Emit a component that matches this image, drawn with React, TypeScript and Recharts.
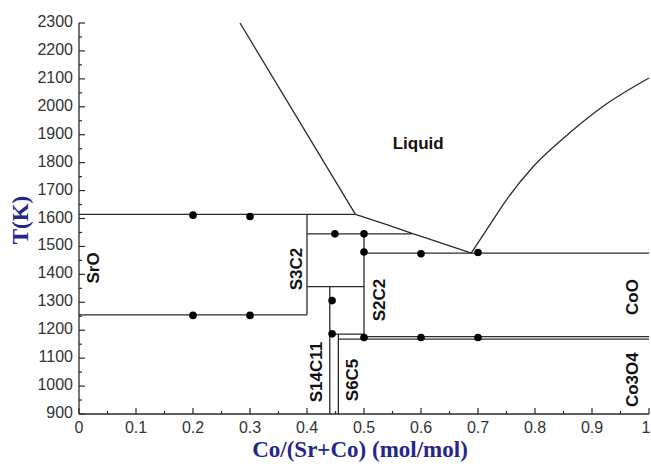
import { ComposedChart, Line, Scatter, XAxis, YAxis } from 'recharts';

// axis ticks
const majorXTicks = [0, 0.1, 0.2, 0.3, 0.4, 0.5, 0.6, 0.7, 0.8, 0.9, 1];
const minorXTicks = [0.05, 0.15, 0.25, 0.35, 0.45, 0.55, 0.65, 0.75, 0.85, 0.95];
const majorTTicks = [900, 1000, 1100, 1200, 1300, 1400, 1500, 1600, 1700, 1800, 1900, 2000, 2100, 2200, 2300];
const minorTTicks = [950, 1050, 1150, 1250, 1350, 1450, 1550, 1650, 1750, 1850, 1950, 2050, 2150, 2250];

// phase boundaries, x = Co/(Sr+Co), t = T(K)
const liquidusSrO = [
  { x: 0.2825, t: 2300 },
  { x: 0.485, t: 1615 },
];
const liquidusMiddle = [
  { x: 0.485, t: 1615 },
  { x: 0.54, t: 1578 },
  { x: 0.584, t: 1547 },
  { x: 0.628, t: 1517 },
  { x: 0.688, t: 1476 },
];
const liquidusCoO = [
  { x: 0.688, t: 1476 },
  { x: 0.715, t: 1559 },
  { x: 0.75, t: 1667 },
  { x: 0.797, t: 1786 },
  { x: 0.861, t: 1907 },
  { x: 0.919, t: 2001 },
  { x: 1.0, t: 2103 },
];
const straightLines = [
  [{ x: 0, t: 1615 }, { x: 0.485, t: 1615 }],
  [{ x: 0.4, t: 1545 }, { x: 0.584, t: 1545 }],
  [{ x: 0.5, t: 1476 }, { x: 1, t: 1476 }],
  [{ x: 0.4, t: 1255 }, { x: 0.4, t: 1615 }],
  [{ x: 0, t: 1255 }, { x: 0.4, t: 1255 }],
  [{ x: 0.4, t: 1356 }, { x: 0.5, t: 1356 }],
  [{ x: 0.44, t: 900 }, { x: 0.44, t: 1356 }],
  [{ x: 0.5, t: 1172 }, { x: 0.5, t: 1545 }],
  [{ x: 0.44, t: 1186 }, { x: 0.5, t: 1186 }],
  [{ x: 0.455, t: 900 }, { x: 0.455, t: 1186 }],
  [{ x: 0.5, t: 1177 }, { x: 1, t: 1177 }],
  [{ x: 0.455, t: 1168 }, { x: 1, t: 1168 }],
];

// experimental points
const measured = [
  { x: 0.2, t: 1612 },
  { x: 0.3, t: 1607 },
  { x: 0.2, t: 1253 },
  { x: 0.3, t: 1253 },
  { x: 0.449, t: 1545 },
  { x: 0.5, t: 1545 },
  { x: 0.5, t: 1480 },
  { x: 0.6, t: 1474 },
  { x: 0.7, t: 1478 },
  { x: 0.444, t: 1306 },
  { x: 0.444, t: 1187 },
  { x: 0.5, t: 1174 },
  { x: 0.6, t: 1174 },
  { x: 0.7, t: 1174 },
];

// phase names
const phaseLabels = [
  { x: 0.026, t: 1423, name: 'SrO', vertical: true },
  { x: 0.381, t: 1419, name: 'S3C2', vertical: true },
  { x: 0.4175, t: 1050, name: 'S14C11', vertical: true },
  { x: 0.479, t: 1022, name: 'S6C5', vertical: true },
  { x: 0.527, t: 1308, name: 'S2C2', vertical: true },
  { x: 0.971, t: 1319, name: 'CoO', vertical: true },
  { x: 0.971, t: 1023, name: 'Co3O4', vertical: true },
  { x: 0.595, t: 1870, name: 'Liquid', vertical: false },
];

const INK = '#2a2a2a';
const TITLE = '#26268c';
const SANS = '"Liberation Sans", Arial, sans-serif';
const SERIF = '"Liberation Serif", "Times New Roman", serif';

const xTicks = [...majorXTicks, ...minorXTicks].sort((a, b) => a - b);
const tTicks = [...majorTTicks, ...minorTTicks].sort((a, b) => a - b);

function BottomTick({ x, y, payload }: any) {
  const major = majorXTicks.includes(payload.value);
  // the last label sits on the page edge, nudge it in
  const labelX = payload.value === 1 ? x - 3 : x;
  return (
    <g>
      <line x1={x} y1={y} x2={x} y2={y - (major ? 6 : 3)} stroke={INK} strokeWidth={1.2} />
      {major && (
        <text x={labelX} y={y + 19} textAnchor='middle' fontSize={16} fill='#333' fontFamily={SANS}>
          {String(payload.value)}
        </text>
      )}
    </g>
  );
}

function TopTick({ x, y, payload }: any) {
  const major = majorXTicks.includes(payload.value);
  return <line x1={x} y1={y} x2={x} y2={y + (major ? 6 : 3)} stroke={INK} strokeWidth={1.2} />;
}

function LeftTick({ x, y, payload }: any) {
  const major = majorTTicks.includes(payload.value);
  return (
    <g>
      <line x1={x} y1={y} x2={x + (major ? 6 : 3)} y2={y} stroke={INK} strokeWidth={1.2} />
      {major && (
        <text x={x - 6} y={y + 4} textAnchor='end' fontSize={16} fill='#333' fontFamily={SANS}>
          {payload.value}
        </text>
      )}
    </g>
  );
}

function RightTick({ x, y, payload }: any) {
  const major = majorTTicks.includes(payload.value);
  return <line x1={x} y1={y} x2={x - (major ? 6 : 3)} y2={y} stroke={INK} strokeWidth={1.2} />;
}

function PhaseName({ cx, cy, payload }: any) {
  if (!payload.vertical) {
    return (
      <text x={cx} y={cy + 6} textAnchor='middle' fontSize={17} fontWeight='bold' fill='#111' fontFamily={SANS}>
        {payload.name}
      </text>
    );
  }
  return (
    <text
      x={cx}
      y={cy}
      textAnchor='middle'
      dominantBaseline='central'
      transform={`rotate(-90, ${cx}, ${cy})`}
      fontSize={17}
      fontWeight='bold'
      fill='#111'
      fontFamily={SANS}
    >
      {payload.name}
    </text>
  );
}

export default function App() {
  return (
    <div style={{ position: 'absolute', left: 0, top: 0, background: '#fff' }}>
      <ComposedChart width={651} height={464} margin={{ top: 23, right: 2, bottom: 0, left: 0 }}>
        <XAxis
          xAxisId='bottom'
          dataKey='x'
          type='number'
          domain={[0, 1]}
          ticks={xTicks}
          interval={0}
          height={50}
          tickSize={0}
          tickMargin={0}
          tick={<BottomTick />}
          axisLine={{ stroke: INK, strokeWidth: 1.3 }}
          label={(props: any) => {
            const vb = props.viewBox;
            return (
              <text
                x={vb.x + vb.width / 2 - 4}
                y={vb.y + 43}
                textAnchor='middle'
                fontSize={23}
                fontWeight='bold'
                fill={TITLE}
                fontFamily={SERIF}
              >
                Co/(Sr+Co) (mol/mol)
              </text>
            );
          }}
        />
        <XAxis
          xAxisId='top'
          orientation='top'
          dataKey='x'
          type='number'
          domain={[0, 1]}
          ticks={xTicks}
          interval={0}
          height={0}
          tickSize={0}
          tickMargin={0}
          tick={<TopTick />}
          axisLine={{ stroke: INK, strokeWidth: 1.3 }}
        />
        <YAxis
          yAxisId='left'
          type='number'
          domain={[900, 2300]}
          ticks={tTicks}
          interval={0}
          width={79}
          tickSize={0}
          tickMargin={0}
          tick={<LeftTick />}
          axisLine={{ stroke: INK, strokeWidth: 1.3 }}
          label={() => (
            <text
              x={20}
              y={220}
              textAnchor='middle'
              dominantBaseline='central'
              transform='rotate(-90, 20, 220)'
              fontSize={23}
              fontWeight='bold'
              fill={TITLE}
              fontFamily={SERIF}
            >
              T(K)
            </text>
          )}
        />
        <YAxis
          yAxisId='right'
          orientation='right'
          type='number'
          domain={[900, 2300]}
          ticks={tTicks}
          interval={0}
          width={0}
          tickSize={0}
          tickMargin={0}
          tick={<RightTick />}
          axisLine={{ stroke: INK, strokeWidth: 1.3 }}
        />

        <Line
          xAxisId='bottom'
          yAxisId='left'
          data={liquidusSrO}
          dataKey='t'
          type='linear'
          stroke={INK}
          strokeWidth={1.3}
          dot={false}
          isAnimationActive={false}
        />
        <Line
          xAxisId='bottom'
          yAxisId='left'
          data={liquidusMiddle}
          dataKey='t'
          type='monotone'
          stroke={INK}
          strokeWidth={1.3}
          dot={false}
          isAnimationActive={false}
        />
        <Line
          xAxisId='bottom'
          yAxisId='left'
          data={liquidusCoO}
          dataKey='t'
          type='monotone'
          stroke={INK}
          strokeWidth={1.3}
          dot={false}
          isAnimationActive={false}
        />
        {straightLines.map((seg, i) => (
          <Line
            key={i}
            xAxisId='bottom'
            yAxisId='left'
            data={seg}
            dataKey='t'
            type='linear'
            stroke={INK}
            strokeWidth={1.3}
            dot={false}
            isAnimationActive={false}
          />
        ))}

        <Scatter
          xAxisId='bottom'
          yAxisId='left'
          data={measured}
          dataKey='t'
          fill='#000'
          shape={(p: any) => <circle cx={p.cx} cy={p.cy} r={3.8} fill='#000' />}
          isAnimationActive={false}
        />
        <Scatter
          xAxisId='bottom'
          yAxisId='left'
          data={phaseLabels}
          dataKey='t'
          shape={<PhaseName />}
          isAnimationActive={false}
        />
      </ComposedChart>
    </div>
  );
}
